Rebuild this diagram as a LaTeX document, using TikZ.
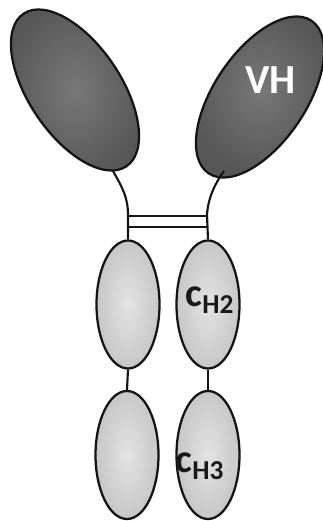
\documentclass[tikz,border=0pt]{standalone}
\usepackage{fontspec}
\setmainfont{Carlito}
\usetikzlibrary{shapes.geometric}
\tikzset{
  x=0.75pt,y=-0.75pt,
  dom/.style={draw=black!92,line width=1.7pt,shape=ellipse,inner sep=0pt},
  vdomain/.style={dom,minimum width=92*0.75pt,minimum height=184*0.75pt,shading=radial,inner color=black!53,outer color=black!66},
  cdomain/.style={dom,minimum width=63*0.75pt,minimum height=128*0.75pt,shading=radial,inner color=black!11,outer color=black!22},
  link/.style={draw=black!92,line width=1.6pt},
  bar/.style={draw=black!92,line width=1.3pt},
  lab/.style={inner sep=0pt,font=\bfseries}
}
\newcommand{\chlabel}[1]{{\fontsize{30pt}{32pt}\selectfont c}\raisebox{-5.5pt}{\fontsize{20.5pt}{22pt}\selectfont #1}}
\begin{document}
\begin{tikzpicture}
\useasboundingbox (0,0) rectangle (322,521);
% hinge and bridge lines lie beneath the domains
\coordinate (hl) at (128,215);
\coordinate (hr) at (207,215);
\coordinate (bl1) at (128,216);
\coordinate (br1) at (207,216);
\coordinate (bl2) at (128,227);
\coordinate (br2) at (207,227);
% variable domains
\node[vdomain,rotate=34] (vl) at (75,90) {};
\node[vdomain,rotate=-34] (vr) at (260,97) {};
% constant domains
\node[cdomain] (c2l) at (128,304.5) {};
\node[cdomain] (c2r) at (208,304.5) {};
\node[cdomain] (c3l) at (127,455) {};
\node[cdomain] (c3r) at (208,455) {};
% hinges
\draw[link] (113,171) .. controls (122,187) and (128,197) .. (hl) -- (c2l.north);
\draw[link] (224,171) .. controls (216,182) and (208,197) .. (hr) -- (c2r.north);
\draw[bar] (bl1) -- (br1);
\draw[bar] (bl2) -- (br2);
% links between constant domains
\draw[link] (c2l.south) -- (c3l.north);
\draw[link] (c2r.south) -- (c3r.north);
% labels
\node[lab,text=white,font=\bfseries\fontsize{31pt}{33pt}\selectfont] (vh) at (270.5,80.5) {VH};
\node[lab,text=black!90] (ch2) at (209.5,300) {\chlabel{H2}};
\node[lab,text=black!90] (ch3) at (199.5,466) {\chlabel{H3}};
\end{tikzpicture}
\end{document}
